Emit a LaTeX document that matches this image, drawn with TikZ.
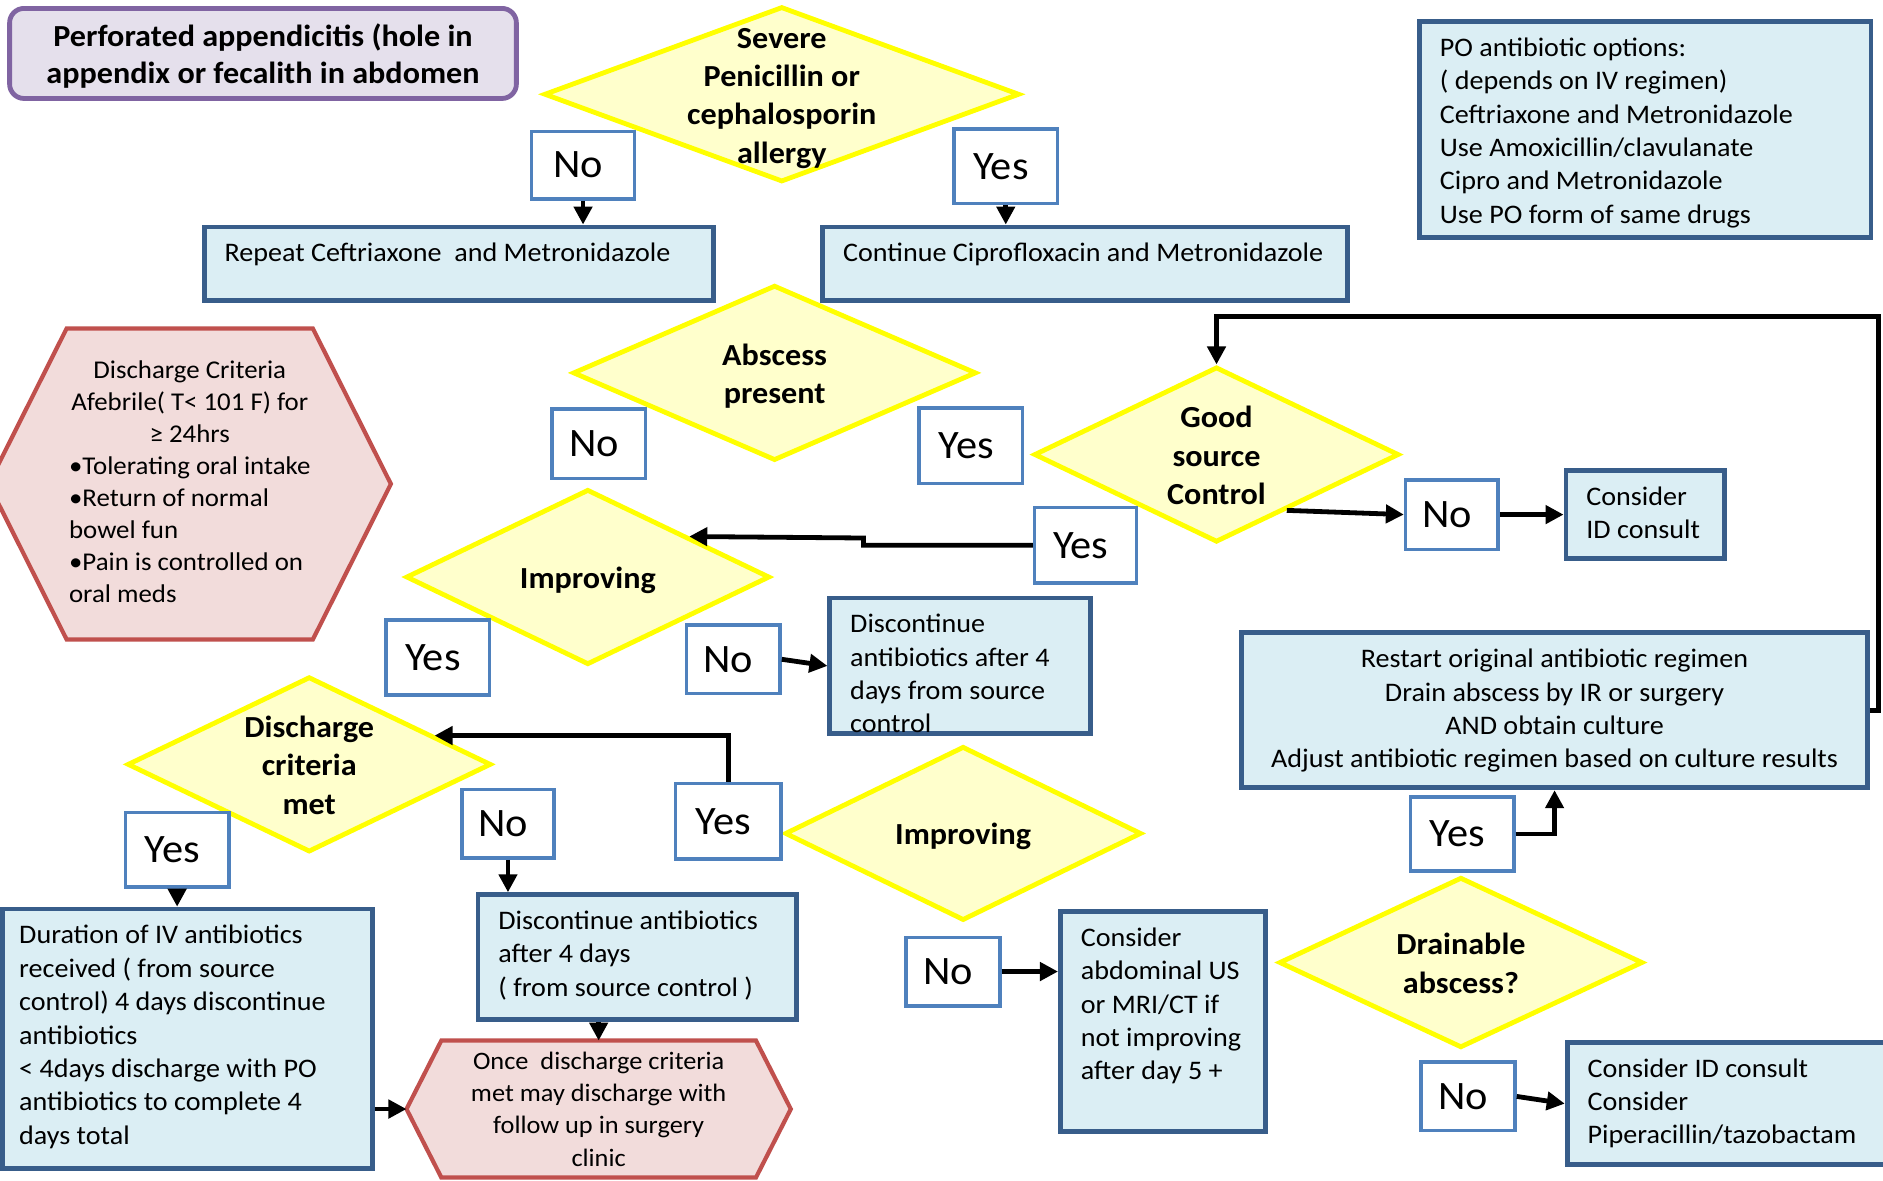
\documentclass[tikz,border=0pt]{standalone}
\usepackage{fontspec}
\setmainfont[FakeStretch=1.05]{Carlito}
\usetikzlibrary{shapes.geometric,arrows.meta,calc,backgrounds}
\definecolor{dkblue}{HTML}{385D8A}
\definecolor{ltblue}{HTML}{DBEEF4}
\definecolor{midblue}{HTML}{4F81BD}
\definecolor{ylw}{HTML}{FFFF00}
\definecolor{ltylw}{HTML}{FFFFCC}
\definecolor{redb}{HTML}{C0504D}
\definecolor{pinkf}{HTML}{F2DCDB}
\definecolor{purb}{HTML}{8064A2}
\definecolor{purf}{HTML}{E5E0EC}
\newcommand{\bodyfont}{\fontsize{22.3pt}{27.8pt}\selectfont}
\newcommand{\btl}[3]{\parbox[c][#1][t]{#2}{\vspace{9.5pt}\begin{tabular}[t]{@{}l@{}}#3\end{tabular}}}
\newcommand{\btc}[3]{\parbox[c][#1][t]{#2}{\vspace{9.5pt}\centering\begin{tabular}[t]{@{}c@{}}#3\end{tabular}}}
\newcommand{\ctx}[2]{\makebox[0pt]{\smash{\raisebox{\dimexpr-0.25em-#2\relax}{\begin{tabular}{@{}c@{}}#1\end{tabular}}}}}
\newcommand{\dtx}[1]{\ctx{#1}{3pt}}
\tikzset{
  lbl/.style={draw=midblue, line width=3pt, fill=white, inner sep=0pt, font=\fontsize{33.6pt}{40pt}\selectfont, execute at begin node={\hspace*{-8pt}}},
  bbox/.style={draw=dkblue, line width=4pt, fill=ltblue, inner sep=0pt, font=\bodyfont},
  dia/.style={diamond, draw=ylw, fill=ltylw, line width=4pt, inner sep=0pt, font=\bfseries\fontsize{25.5pt}{32pt}\selectfont},
  hexn/.style={inner sep=0pt, outer sep=0pt},
  hexd/.style={draw=redb, fill=pinkf, line width=3.5pt, line join=miter},
  arr/.style={draw=black, line width=4pt, -{Triangle[length=15pt,width=15pt]}},
  ttl/.style={draw=purb, fill=purf, line width=4pt, rounded corners=12pt, inner sep=0pt, font=\bfseries\fontsize{25.5pt}{31pt}\selectfont},
}
\begin{document}
\begin{tikzpicture}[x=1pt,y=-1pt]
\begin{scope}[on background layer]
\fill[white] (0,0) rectangle (1568,983);
\end{scope}
\useasboundingbox (0,0) rectangle (1568,983);

% title
\node[ttl, minimum width=422pt, minimum height=75pt] (title) at (219,44.5) {\ctx{Perforated appendicitis (hole in\\appendix or fecalith in abdomen}{3pt}};

% diamonds
\node[dia, minimum width=396pt, minimum height=146pt] (sev) at (651,78.5) {\dtx{Severe\\Penicillin or\\cephalosporin\\allergy}};
\node[dia, minimum width=336pt, minimum height=146pt] (absc) at (645,310.5) {\dtx{Abscess\\present}};
\node[dia, minimum width=304pt, minimum height=146pt] (good) at (1013,378.5) {\dtx{Good\\source\\Control}};
\node[dia, minimum width=303pt, minimum height=146pt] (imp1) at (489.5,480.5) {\dtx{Improving}};
\node[dia, minimum width=303pt, minimum height=146pt] (dcm) at (257.5,636.5) {\dtx{Discharge\\criteria\\met}};
\node[dia, minimum width=297pt, minimum height=145pt] (imp2) at (802,694) {\dtx{Improving}};
\node[dia, minimum width=303pt, minimum height=142pt] (drain) at (1216.5,801.5) {\dtx{Drainable\\abscess?}};

% blue boxes
\node[bbox, minimum width=424pt, minimum height=61pt] (repeat) at (382,219.5) {\btl{61pt}{390pt}{Repeat Ceftriaxone~ and Metronidazole}};
\node[bbox, minimum width=437pt, minimum height=61pt] (cont) at (903.5,219.5) {\btl{61pt}{403pt}{Continue Ciprofloxacin and Metronidazole}};
\node[bbox, minimum width=376pt, minimum height=180pt] (po) at (1370,108) {\btl{180pt}{342pt}{PO antibiotic options:\\( depends on IV regimen)\\Ceftriaxone and Metronidazole\\Use Amoxicillin/clavulanate\\Cipro and Metronidazole\\Use PO form of same drugs}};
\node[bbox, minimum width=132pt, minimum height=73pt] (cid) at (1370,428.5) {\btl{73pt}{98pt}{Consider\\ID consult}};
\node[bbox, minimum width=217pt, minimum height=113pt] (disc4) at (799.5,554.5) {\btl{113pt}{183pt}{Discontinue\\antibiotics after 4\\days from source\\control}};
\node[bbox, minimum width=521pt, minimum height=129pt] (restart) at (1294.5,591.5) {\btc{129pt}{487pt}{Restart original antibiotic regimen\\Drain abscess by IR or surgery\\AND obtain culture\\Adjust antibiotic regimen based on culture results}};
\node[bbox, minimum width=308pt, minimum height=216pt] (dur) at (156,865) {\btl{216pt}{280pt}{Duration of IV antibiotics\\received ( from source\\control) 4 days discontinue\\antibiotics\\< 4days discharge with PO\\antibiotics to complete 4\\days total}};
\node[bbox, minimum width=265pt, minimum height=104pt] (disc2) at (530.5,797) {\btl{104pt}{231pt}{Discontinue antibiotics\\after 4 days\\( from source control )}};
\node[bbox, minimum width=171pt, minimum height=183pt] (cabd) at (968.5,850.5) {\btl{183pt}{137pt}{Consider\\abdominal US\\or MRI/CT if\\not improving\\after day 5 +}};
\node[bbox, minimum width=268pt, minimum height=102pt] (pip) at (1439,919) {\btl{102pt}{234pt}{Consider ID consult\\Consider\\Piperacillin/tazobactam}};

% hexagons
\node[hexn, minimum width=335pt, minimum height=259pt, font=\fontsize{21.3pt}{26.6pt}\selectfont] (disch) at (158,403) {\begin{tabular}{@{}l@{}}\multicolumn{1}{@{}c@{}}{Discharge Criteria}\\\multicolumn{1}{@{}c@{}}{Afebrile( T< 101 F) for}\\\multicolumn{1}{@{}c@{}}{≥ 24hrs}\\•Tolerating oral intake\\•Return of normal\\bowel fun\\•Pain is controlled on\\oral meds\end{tabular}};
\begin{scope}[on background layer]
\draw[hexd] ($(disch.north west)+(65,0)$) -- ($(disch.north east)+(-65,0)$) -- (disch.east) -- ($(disch.south east)+(-65,0)$) -- ($(disch.south west)+(65,0)$) -- (disch.west) -- cycle;
\end{scope}
\node[hexn, minimum width=320pt, minimum height=114pt, font=\fontsize{20.9pt}{26.7pt}\selectfont] (once) at (498.5,923.5) {\ctx{Once~ discharge criteria\\met may discharge with\\follow up in surgery\\clinic}{2pt}};
\begin{scope}[on background layer]
\draw[hexd] ($(once.north west)+(29,0)$) -- ($(once.north east)+(-29,0)$) -- (once.east) -- ($(once.south east)+(-29,0)$) -- ($(once.south west)+(29,0)$) -- (once.west) -- cycle;
\end{scope}

% yes / no labels
\node[lbl, minimum width=86pt, minimum height=56pt] (no1) at (485.5,137.5) {No};
\node[lbl, minimum width=86pt, minimum height=62pt] (yes1) at (837.5,138.5) {Yes};
\node[lbl, minimum width=78pt, minimum height=58pt] (no2) at (498.5,369.5) {No};
\node[lbl, minimum width=86pt, minimum height=63pt] (yes2) at (808.5,371) {Yes};
\node[lbl, minimum width=85pt, minimum height=63pt] (yes3) at (904,454) {Yes};
\node[lbl, minimum width=77pt, minimum height=58pt] (no3) at (1209,428.5) {No};
\node[lbl, minimum width=86pt, minimum height=62pt] (yes4) at (364.5,547.5) {Yes};
\node[lbl, minimum width=78pt, minimum height=57pt] (no4) at (610.5,549) {No};
\node[lbl, minimum width=88pt, minimum height=63pt] (yes5) at (606.5,684) {Yes};
\node[lbl, minimum width=86pt, minimum height=62pt] (yes6) at (147.5,707.5) {Yes};
\node[lbl, minimum width=77pt, minimum height=57pt] (no5) at (423,686) {No};
\node[lbl, minimum width=78pt, minimum height=57pt] (no6) at (793.5,809) {No};
\node[lbl, minimum width=86pt, minimum height=62pt] (yes7) at (1217.5,694.5) {Yes};
\node[lbl, minimum width=78pt, minimum height=57pt] (no7) at (1222.5,913) {No};

% helper coordinates on diamond edges
\coordinate (impin) at ($(imp1.north)!0.55!(imp1.east)$);
\coordinate (dcin) at ($(dcm.north)!0.68!(dcm.east)$);
\coordinate (goodout) at ($(good.east)!0.62!(good.south)$);

% connectors
\draw[arr] (no1.south) -- (no1.south |- repeat.north);
\draw[arr] (yes1.south) -- (yes1.south |- cont.north);
\draw[arr] (restart.east) -- ++(7,0) -- ++(0,-328) -| (good.north);
\draw[arr] (goodout) -- (no3.west);
\draw[arr] (no3.east) -- (cid.west);
\draw[arr] (yes3.west) -- ++(-141,0) -- ++(0,-6) -- (impin);
\draw[arr] (no4.east) -- (disc4.west);
\draw[arr] (yes5.north) |- (dcin);
\draw[arr] (yes6.south) -- (yes6.south |- dur.north);
\draw[arr] (no5.south) -- (no5.south |- disc2.north);
\draw[arr] (dur.east |- once.west) -- (once.west);
\draw[arr] (once.north |- disc2.south) -- (once.north);
\draw[arr] (no6.east) -- (no6.east -| cabd.west);
\draw[arr] (yes7.east) -| (restart.south);
\draw[arr] (no7.east) -- (pip.west);
\end{tikzpicture}
\end{document}
